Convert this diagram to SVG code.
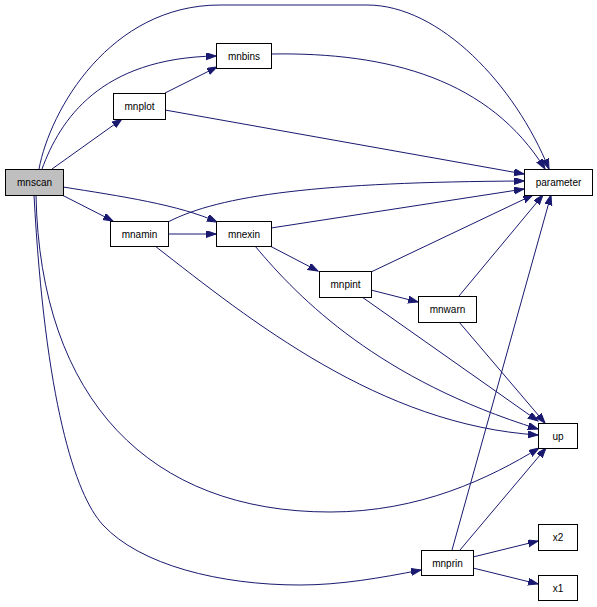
<svg xmlns="http://www.w3.org/2000/svg" width="597" height="607" viewBox="0 0 597 607">
<style>
.n rect{fill:#fff;stroke:#000;stroke-width:1}
.n text{font-family:"Liberation Sans",Arial,sans-serif;font-size:10px;text-anchor:middle;fill:#000}
#edges path{fill:none;stroke:#191970;stroke-width:1;marker-end:url(#ah)}
</style>
<defs>
<marker id="ah" markerUnits="userSpaceOnUse" markerWidth="11" markerHeight="8" refX="10" refY="3.5" orient="auto">
<path d="M0,0 L10,3.5 L0,7 z" fill="#191970" stroke="#191970" stroke-width="1"/>
</marker>
</defs>
<rect width="597" height="607" fill="#fff"/>
<g id="edges">
<path d="M39,169 C50,110 110,5 220,5 L367,5 C440,5 515,85 549,169"/>
<path d="M42,169 C60,120 100,58 216,56"/>
<path d="M52,169 L122,119"/>
<path d="M165,93 L217,67"/>
<path d="M165,110 L524,174"/>
<path d="M271,54 C390,52 490,80 545,169"/>
<path d="M62,195 L113,221"/>
<path d="M63,187 C120,196 180,205 217,222"/>
<path d="M168,234 L216,234"/>
<path d="M168,222 C220,195 320,182 524,181"/>
<path d="M271,228 L524,189"/>
<path d="M270,246 L318,271"/>
<path d="M255,246 C300,300 380,380 538,429"/>
<path d="M155,246 C250,320 380,425 538,435"/>
<path d="M362,297 L538,421"/>
<path d="M371,272 L533,195"/>
<path d="M371,290 L418,302"/>
<path d="M459,296 L543,195"/>
<path d="M459,322 L545,423"/>
<path d="M452,550 L551,195"/>
<path d="M460,550 L546,448"/>
<path d="M36,195 C40,400 150,512 330,512 C420,512 490,478 539,448"/>
<path d="M34,195 C45,400 75,495 103,525 C140,565 220,585 300,585 C340,585 380,578 421,570"/>
<path d="M473,557 L538,541"/>
<path d="M473,568 L538,584"/>
</g>
<g id="mnscan" class="n"><rect x="5.5" y="169.5" width="58" height="26" style="fill:#bfbfbf"/><text x="34.5" y="186">mnscan</text></g>
<g id="mnplot" class="n"><rect x="113.5" y="93.5" width="52" height="26"/><text x="139.5" y="110">mnplot</text></g>
<g id="mnbins" class="n"><rect x="216.5" y="43.5" width="55" height="25"/><text x="244" y="60">mnbins</text></g>
<g id="mnamin" class="n"><rect x="110.5" y="221.5" width="58" height="25"/><text x="139.5" y="238">mnamin</text></g>
<g id="mnexin" class="n"><rect x="216.5" y="221.5" width="55" height="25"/><text x="244" y="238">mnexin</text></g>
<g id="mnpint" class="n"><rect x="319.5" y="271.5" width="52" height="26"/><text x="345.5" y="288">mnpint</text></g>
<g id="mnwarn" class="n"><rect x="418.5" y="296.5" width="58" height="26"/><text x="447.5" y="313">mnwarn</text></g>
<g id="parameter" class="n"><rect x="524.5" y="169.5" width="68" height="26"/><text x="558.5" y="186">parameter</text></g>
<g id="up" class="n"><rect x="538.5" y="423.5" width="39" height="25"/><text x="558" y="440">up</text></g>
<g id="mnprin" class="n"><rect x="421.5" y="550.5" width="52" height="25"/><text x="447.5" y="567">mnprin</text></g>
<g id="x2" class="n"><rect x="538.5" y="524.5" width="39" height="26"/><text x="558" y="541">x2</text></g>
<g id="x1" class="n"><rect x="538.5" y="575.5" width="39" height="25"/><text x="558" y="592">x1</text></g>
</svg>
